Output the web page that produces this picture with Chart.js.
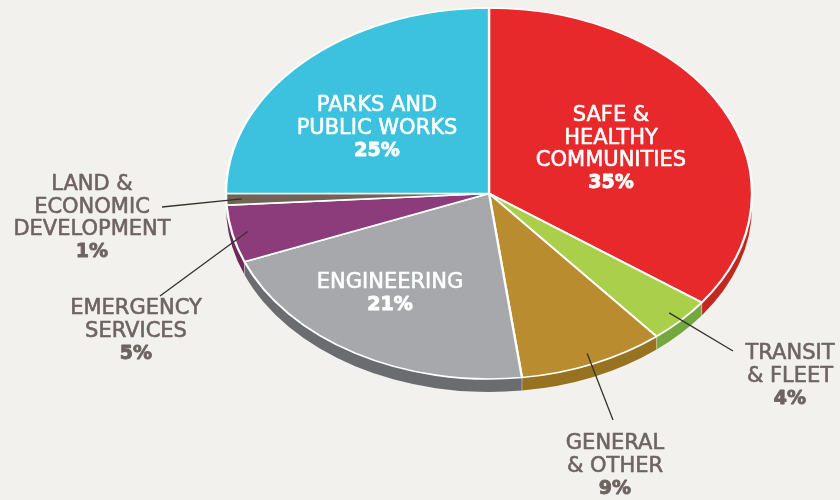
<!DOCTYPE html>
<html>
<head>
<meta charset="utf-8">
<script src="https://cdn.jsdelivr.net/npm/chart.js@4"></script>
<style>
  html, body { margin: 0; padding: 0; background: #f3f1ed; }
  #wrap { width: 840px; height: 500px; }
</style>
</head>
<body>
<div id="wrap"><canvas id="pie" width="840" height="500"></canvas></div>
<script>
// ---------------------------------------------------------------------------
// Data
// ---------------------------------------------------------------------------

const CATEGORIES = [
  ['SAFE &', 'HEALTHY', 'COMMUNITIES'],
  ['TRANSIT', '& FLEET'],
  ['GENERAL', '& OTHER'],
  ['ENGINEERING'],
  ['EMERGENCY', 'SERVICES'],
  ['LAND &', 'ECONOMIC', 'DEVELOPMENT'],
  ['PARKS AND', 'PUBLIC WORKS'],
];
const SHARES = [35, 4, 9, 21, 5, 1, 25];

const TOP_COLORS  = ['#e8292c', '#aacf4b', '#b98c2f', '#a6a8ab', '#8c3c7a', '#6f6457', '#3cc1de'];
const SIDE_COLORS = ['#c02a1e', '#74a83e', '#977220', '#6b6c70', '#6a2a5c', '#4e453b', '#2b97b0'];

// ---------------------------------------------------------------------------
// Layout (screen px)
// ---------------------------------------------------------------------------

const ELLIPSE = { cx: 489, cy: 193.5, rx: 263, ry: 185.5, depth: 13 };
const LINE_H  = 22.5;
// label centre of first line, inside = white text on the slice, lead = outer end of leader line
const LABELS = [
  { x: 611, y: 116, inside: true },
  { x: 790, y: 354, inside: false, lead: [733, 351] },
  { x: 615, y: 444, inside: false, lead: [613, 420] },
  { x: 390, y: 283, inside: true },
  { x: 136, y: 309, inside: false, lead: [160, 296] },
  { x: 92,  y: 185, inside: false, lead: [162, 207] },
  { x: 377, y: 106, inside: true },
];

// ---------------------------------------------------------------------------
// Plugins
// ---------------------------------------------------------------------------

function toScreen(arc0, R, x, y) {
  return [
    ELLIPSE.cx + (x - arc0.x) * ELLIPSE.rx / R,
    ELLIPSE.cy + (y - arc0.y) * ELLIPSE.ry / R,
  ];
}

const ellipsePlugin = {
  id: 'ellipse',
  beforeDatasetsDraw(chart) {
    const { ctx } = chart;
    const meta = chart.getDatasetMeta(0);
    const arc0 = meta.data[0];
    const R  = arc0.outerRadius;
    const sx = ELLIPSE.rx / R;
    const sy = ELLIPSE.ry / R;
    ctx.save();
    ctx.translate(ELLIPSE.cx, ELLIPSE.cy);
    ctx.scale(sx, sy);
    ctx.translate(-arc0.x, -arc0.y);

    // extruded side of each slice
    const d = ELLIPSE.depth / sy;
    meta.data.forEach((arc, i) => {
      ctx.beginPath();
      ctx.arc(arc.x, arc.y + d, R, arc.startAngle, arc.endAngle);
      ctx.arc(arc.x, arc.y, R, arc.endAngle, arc.startAngle, true);
      ctx.closePath();
      ctx.fillStyle = SIDE_COLORS[i];
      ctx.fill();
    });
    // faint seams between side segments
    ctx.strokeStyle = 'rgba(255,255,255,0.45)';
    ctx.lineWidth = 1 / sx;
    meta.data.forEach(arc => {
      const a = arc.startAngle;
      if (Math.sin(a) <= 0) return;
      ctx.beginPath();
      ctx.moveTo(arc.x + Math.cos(a) * R, arc.y + Math.sin(a) * R);
      ctx.lineTo(arc.x + Math.cos(a) * R, arc.y + Math.sin(a) * R + d);
      ctx.stroke();
    });
  },
  afterDatasetsDraw(chart) {
    chart.ctx.restore();
  },
  afterDraw(chart) {
    const { ctx } = chart;
    const meta = chart.getDatasetMeta(0);
    const arc0 = meta.data[0];
    const R = arc0.outerRadius;

    // leader lines
    ctx.save();
    ctx.strokeStyle = '#34332a';
    ctx.lineWidth = 1.3;
    meta.data.forEach((arc, i) => {
      const lab = LABELS[i];
      if (!lab.lead) return;
      const mid = (arc.startAngle + arc.endAngle) / 2;
      const [px, py] = toScreen(arc0, R, arc.x + Math.cos(mid) * R * 0.94, arc.y + Math.sin(mid) * R * 0.94);
      ctx.beginPath();
      ctx.moveTo(px, py);
      ctx.lineTo(lab.lead[0], lab.lead[1]);
      ctx.stroke();
    });
    ctx.restore();

    // labels (a thin stroke gives the heavier, medium-weight look)
    ctx.save();
    ctx.textAlign = 'center';
    ctx.textBaseline = 'middle';
    ctx.lineJoin = 'round';
    CATEGORIES.forEach((lines, i) => {
      const lab = LABELS[i];
      const col = lab.inside ? '#ffffff' : '#6d6462';
      ctx.fillStyle = col;
      ctx.strokeStyle = col;
      ctx.font = '21px "DejaVu Sans", sans-serif';
      ctx.lineWidth = 0.6;
      lines.forEach((t, j) => {
        ctx.fillText(t, lab.x, lab.y + j * LINE_H);
        ctx.strokeText(t, lab.x, lab.y + j * LINE_H);
      });
      ctx.font = 'bold 19px "DejaVu Sans", sans-serif';
      ctx.lineWidth = 0.9;
      const pct = SHARES[i] + '%';
      ctx.fillText(pct, lab.x, lab.y + lines.length * LINE_H);
      ctx.strokeText(pct, lab.x, lab.y + lines.length * LINE_H);
    });
    ctx.restore();
  },
};

// ---------------------------------------------------------------------------
// Chart
// ---------------------------------------------------------------------------

new Chart(document.getElementById('pie'), {
  type: 'pie',
  data: {
    labels: CATEGORIES.map(l => l.join(' ')),
    datasets: [{
      data: SHARES,
      backgroundColor: TOP_COLORS,
      borderColor: '#ffffff',
      borderWidth: 2.2,
      clip: false,
    }],
  },
  plugins: [ellipsePlugin],
  options: {
    responsive: false,
    animation: false,
    devicePixelRatio: 1,
    layout: { padding: 0 },
    plugins: { legend: { display: false }, tooltip: { enabled: false } },
  },
});
</script>
</body>
</html>
